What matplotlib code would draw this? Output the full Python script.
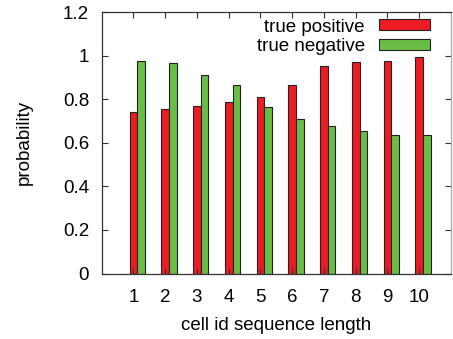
import numpy as np
import matplotlib
matplotlib.use('Agg')
import matplotlib.pyplot as plt

plt.rcParams['font.family'] = ['Liberation Sans', 'DejaVu Sans']

# data
lengths = [1, 2, 3, 4, 5, 6, 7, 8, 9, 10]
true_pos = [0.740, 0.756, 0.770, 0.786, 0.811, 0.863, 0.953, 0.971, 0.977, 0.994]
true_neg = [0.973, 0.968, 0.913, 0.866, 0.765, 0.707, 0.678, 0.655, 0.637, 0.634]

red = '#ED1C24'
green = '#6ABD45'
fs = 13.5

fig = plt.figure(figsize=(4.53, 3.39), dpi=100)
ax = fig.add_axes([0.2245, 0.1932, 0.9956 - 0.2245, 0.9646 - 0.1932])

x = np.array(lengths)
w = 0.24
ax.bar(x, true_pos, width=w, color=red, edgecolor='#222222', linewidth=0.8,
       label='true positive')
ax.bar(x + w, true_neg, width=w, color=green, edgecolor='#222222', linewidth=0.8,
       label='true negative')

ax.set_xlim(0, 11)
ax.set_ylim(0, 1.2)
ax.set_xticks(lengths)
ax.set_yticks([0, 0.2, 0.4, 0.6, 0.8, 1, 1.2])
ax.set_yticklabels(['0', '0.2', '0.4', '0.6', '0.8', '1', '1.2'])

ax.tick_params(axis='both', direction='in', length=4, width=0.8, color='#333333',
               top=True, right=True, labelsize=fs)
ax.tick_params(axis='x', pad=11)
ax.tick_params(axis='y', pad=9)
for s in ax.spines.values():
    s.set_color('#333333')
    s.set_linewidth(0.9)
ax.spines['right'].set_color('#aaaaaa')

ax.set_xlabel('cell id sequence length', fontsize=fs, labelpad=8)
ax.set_ylabel('probability', fontsize=fs, labelpad=22)

# legend: text left of the key, top right inside
leg = ax.legend(loc='upper right', bbox_to_anchor=(0.94, 0.975), frameon=False,
                markerfirst=False, fontsize=fs,
                handlelength=2.72, handleheight=0.53, handletextpad=0.75,
                labelspacing=0.15, borderaxespad=0.0, borderpad=0.0)

fig.savefig('out.png', dpi=100)
